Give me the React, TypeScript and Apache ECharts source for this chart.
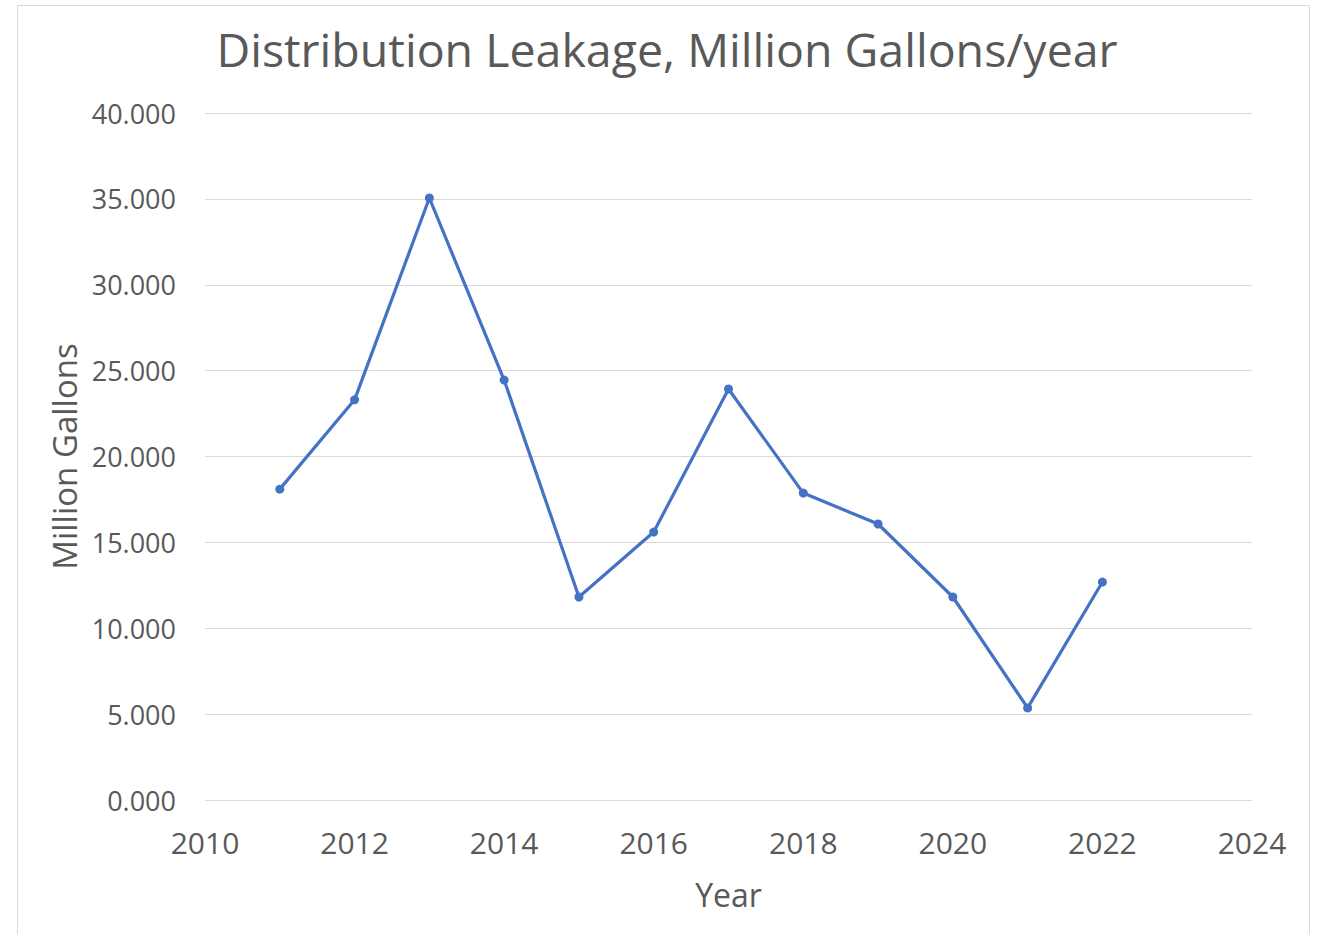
import React, { useEffect, useRef } from "react";
import * as echarts from "echarts";

const years = [2011, 2012, 2013, 2014, 2015, 2016, 2017, 2018, 2019, 2020, 2021, 2022];
const leakage = [18.1, 23.3, 35.05, 24.45, 11.82, 15.6, 23.93, 17.87, 16.07, 11.82, 5.36, 12.69];
const titleText = "Distribution Leakage, Million Gallons/year";
const xName = "Year";
const yName = "Million Gallons";

export default function App() {
  const ref = useRef<HTMLDivElement>(null);
  useEffect(() => {
    if (!ref.current) return;
    const chart = echarts.init(ref.current, undefined, { renderer: "svg" });
    const font = "'Open Sans', sans-serif";
    chart.setOption({
      animation: false,
      backgroundColor: "#ffffff",
      textStyle: { fontFamily: font },
      title: {
        text: titleText,
        left: 662,
        top: 20,
        textAlign: "center",
        textStyle: { fontFamily: font, fontSize: 46.5, fontWeight: "normal", color: "#595959" },
      },
      graphic: [
        {
          type: "polyline",
          shape: { points: [[17.5, 960], [17.5, 5.5], [1309.5, 5.5], [1309.5, 960]] },
          style: { stroke: "#d9d9d9", lineWidth: 1, fill: "none" },
          silent: true,
        },
      ],
      grid: { left: 205, right: 65, top: 113, bottom: 134 },
      xAxis: {
        type: "value",
        min: 2010,
        max: 2024,
        interval: 2,
        name: xName,
        nameLocation: "middle",
        nameGap: 78,
        nameTextStyle: { fontFamily: font, fontSize: 32, color: "#595959" },
        axisLine: { show: false },
        axisTick: { show: false },
        splitLine: { show: false },
        axisLabel: {
          fontFamily: font,
          fontSize: 30,
          color: "#595959",
          margin: 27,
          formatter: (v: number) => String(v),
        },
      },
      yAxis: {
        type: "value",
        min: 0,
        max: 40,
        interval: 5,
        name: yName,
        nameLocation: "middle",
        nameGap: 120,
        nameTextStyle: { fontFamily: font, fontSize: 33, color: "#595959" },
        axisLine: { show: false },
        axisTick: { show: false },
        splitLine: { show: true, lineStyle: { color: "#d9d9d9", width: 1 } },
        axisLabel: {
          fontFamily: font,
          fontSize: 27,
          color: "#595959",
          margin: 29,
          formatter: (v: number) => v.toFixed(3),
        },
      },
      series: [
        {
          type: "line",
          data: years.map((y, i) => [y, leakage[i]]),
          lineStyle: { color: "#4472C4", width: 3.2 },
          itemStyle: { color: "#4472C4" },
          symbol: "circle",
          symbolSize: 9,
        },
      ],
    });
    return () => chart.dispose();
  }, []);
  return (
    <div
      ref={ref}
      style={{ position: "fixed", left: 0, top: 0, width: 1317, height: 934 }}
    />
  );
}
